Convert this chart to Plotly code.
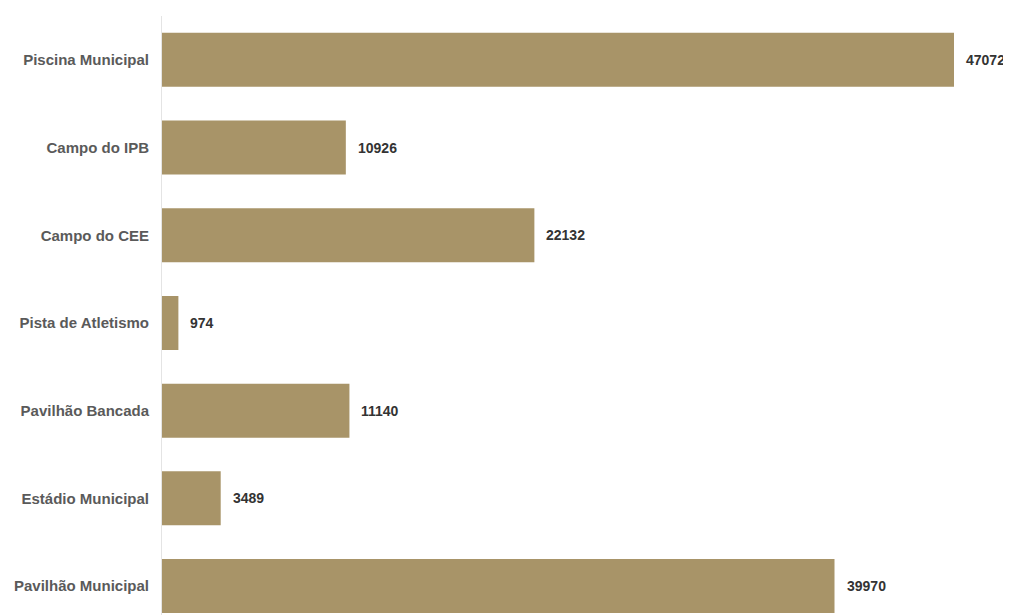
import plotly.graph_objects as go

categories = ["Piscina Municipal", "Campo do IPB", "Campo do CEE", "Pista de Atletismo",
              "Pavilhão Bancada", "Estádio Municipal", "Pavilhão Municipal"]
values = [47072, 10926, 22132, 974, 11140, 3489, 39970]

BAR_COLOR = "#a89468"

fig = go.Figure()
fig.add_trace(go.Bar(
    x=values, y=categories, orientation="h",
    marker=dict(color=BAR_COLOR, line=dict(width=0)),
    hoverinfo="x+y",
))

for c, v in zip(categories, values):
    fig.add_annotation(x=v, y=c, text=str(v), showarrow=False, xanchor="left",
                       xshift=10, yshift=0,
                       font=dict(family="Liberation Sans", size=14, color="#333333", weight="bold"))

fig.update_layout(
    width=1003, height=607,
    margin=dict(l=154, r=0, t=8, b=0),
    paper_bgcolor="white", plot_bgcolor="white",
    bargap=0.384,
    showlegend=False,
    xaxis=dict(range=[0, 50460], visible=False, fixedrange=True),
    yaxis=dict(type="category", categoryorder="array", categoryarray=categories,
               range=[6.33, -0.5], showline=True, linecolor="#e4e4e4", linewidth=1,
               showgrid=False, zeroline=False, ticks="outside", ticklen=9,
               tickcolor="rgba(0,0,0,0)",
               tickfont=dict(family="Liberation Sans", size=15, color="#5a5a5a", weight="bold")),
)

fig.write_html("out.html")
